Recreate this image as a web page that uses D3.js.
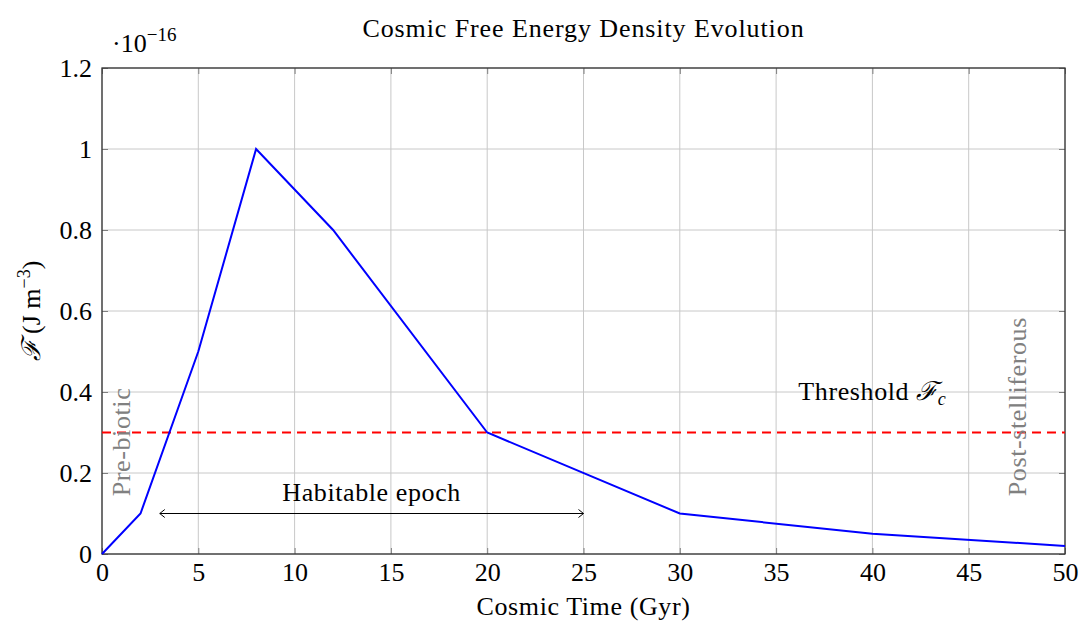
<!DOCTYPE html>
<html>
<head>
<meta charset="utf-8">
<script src="https://cdn.jsdelivr.net/npm/d3@7"></script>
<style>
  body { margin: 0; background: #fff; }
  text { font-family: "Liberation Serif", "DejaVu Serif", serif; }
</style>
</head>
<body>
<div id="chart"></div>
<script>
// Data (values in units of 1e-16 J m^-3)
var timeGyr = [0, 2, 5, 8, 12, 20, 30, 40, 50];
var freeEnergy = [0, 0.1, 0.5, 1.0, 0.8, 0.3, 0.1, 0.05, 0.02];
var threshold = 0.3;
var xTicks = [0, 5, 10, 15, 20, 25, 30, 35, 40, 45, 50];
var yTicks = [0, 0.2, 0.4, 0.6, 0.8, 1.0, 1.2];
var habitableRange = [3, 25];

var svgWidth = 1080;
var svgHeight = 625;
var margin = { top: 68, bottom: 71, left: 102, right: 15 };
var chartWidth = svgWidth - margin.left - margin.right;
var chartHeight = svgHeight - margin.top - margin.bottom;

var svg = d3.select("#chart").append("svg")
    .attr("width", svgWidth)
    .attr("height", svgHeight);

var chartGroup = svg.append("g")
    .attr("transform", `translate(${margin.left}, ${margin.top})`);

var xScale = d3.scaleLinear().domain([0, 50]).range([0, chartWidth]);
var yScale = d3.scaleLinear().domain([0, 1.2]).range([chartHeight, 0]);

// Grid
chartGroup.append("g").selectAll("line")
    .data(xTicks).enter().append("line")
    .attr("x1", d => xScale(d)).attr("x2", d => xScale(d))
    .attr("y1", 0).attr("y2", chartHeight)
    .attr("stroke", "#c8c8c8").attr("stroke-width", 1);
chartGroup.append("g").selectAll("line")
    .data(yTicks).enter().append("line")
    .attr("x1", 0).attr("x2", chartWidth)
    .attr("y1", d => yScale(d)).attr("y2", d => yScale(d))
    .attr("stroke", "#c8c8c8").attr("stroke-width", 1);

// Inner ticks on all four sides
var tickLen = 6;
var fmtY = d => d === 0 ? "0" : (d === 1 ? "1" : d3.format(".1f")(d));

var xAxis = d3.axisBottom(xScale).tickValues(xTicks).tickSizeInner(-tickLen).tickSizeOuter(0).tickPadding(9);
var yAxis = d3.axisLeft(yScale).tickValues(yTicks).tickFormat(fmtY).tickSizeInner(-tickLen).tickSizeOuter(0).tickPadding(10);
var xTop = d3.axisTop(xScale).tickValues(xTicks).tickSizeInner(-tickLen).tickSizeOuter(0).tickFormat("");
var yRight = d3.axisRight(yScale).tickValues(yTicks).tickSizeInner(-tickLen).tickSizeOuter(0).tickFormat("");

var axes = [
    chartGroup.append("g").attr("transform", `translate(0, ${chartHeight})`).call(xAxis),
    chartGroup.append("g").call(yAxis),
    chartGroup.append("g").call(xTop),
    chartGroup.append("g").attr("transform", `translate(${chartWidth}, 0)`).call(yRight)
];
axes.forEach(function(a) {
    a.attr("font-size", null).attr("font-family", null);
    a.select(".domain").remove();
    a.selectAll(".tick line").attr("stroke", "#7f7f7f").attr("stroke-width", 1);
    a.selectAll(".tick text").attr("fill", "#000").style("font-size", "26px");
});

// Frame
chartGroup.append("rect")
    .attr("width", chartWidth).attr("height", chartHeight)
    .attr("fill", "none").attr("stroke", "#333").attr("stroke-width", 1.3);

// Threshold line
chartGroup.append("line")
    .attr("x1", xScale(0)).attr("x2", xScale(50))
    .attr("y1", yScale(threshold)).attr("y2", yScale(threshold))
    .attr("stroke", "#ff0000").attr("stroke-width", 2)
    .attr("stroke-dasharray", "9,6");

// Free energy curve
var line = d3.line().x((d, i) => xScale(timeGyr[i])).y(d => yScale(d));
chartGroup.append("path")
    .datum(freeEnergy)
    .attr("d", line)
    .attr("fill", "none")
    .attr("stroke", "#0000ff")
    .attr("stroke-width", 2);

// Habitable epoch arrow
var arrowY = yScale(0.1);
var ax1 = xScale(habitableRange[0]);
var ax2 = xScale(habitableRange[1]);
var arrowGroup = chartGroup.append("g").attr("stroke", "#000").attr("fill", "none").attr("stroke-width", 1);
arrowGroup.append("line").attr("x1", ax1).attr("x2", ax2).attr("y1", arrowY).attr("y2", arrowY);
arrowGroup.append("path").attr("d", `M${ax1 + 5},${arrowY - 4} L${ax1},${arrowY} L${ax1 + 5},${arrowY + 4}`);
arrowGroup.append("path").attr("d", `M${ax2 - 5},${arrowY - 4} L${ax2},${arrowY} L${ax2 - 5},${arrowY + 4}`);

chartGroup.append("text")
    .attr("x", xScale(14)).attr("y", yScale(0.15) + 8)
    .attr("text-anchor", "middle")
    .style("font-size", "26px")
    .style("letter-spacing", "0.6px")
    .text("Habitable epoch");

// Threshold label
var thr = chartGroup.append("text")
    .attr("x", xScale(40)).attr("y", yScale(0.4) + 8)
    .attr("text-anchor", "middle")
    .style("font-size", "26px")
    .style("letter-spacing", "0.6px");
thr.append("tspan").text("Threshold ");
thr.append("tspan").style("font-style", "italic").text("ℱ");
thr.append("tspan").style("font-style", "italic").style("font-size", "18px").attr("dy", 5).text("c");

// Era labels (rotated, grey)
chartGroup.append("text")
    .attr("transform", `translate(${xScale(1) + 9}, ${yScale(0.15) + 3}) rotate(-90)`)
    .attr("fill", "#808080")
    .style("font-size", "26px")
    .style("letter-spacing", "0.6px")
    .text("Pre-biotic");
chartGroup.append("text")
    .attr("transform", `translate(${xScale(47.5) + 9}, ${yScale(0.15) + 3}) rotate(-90)`)
    .attr("fill", "#808080")
    .style("font-size", "26px")
    .style("letter-spacing", "0.6px")
    .text("Post-stelliferous");

// Title
svg.append("text")
    .attr("x", margin.left + chartWidth / 2).attr("y", 37)
    .attr("text-anchor", "middle")
    .style("font-size", "26px")
    .style("letter-spacing", "0.9px")
    .text("Cosmic Free Energy Density Evolution");

// Scale factor
var sf = svg.append("text").attr("x", 112).attr("y", 52).style("font-size", "26px");
sf.append("tspan").text("·10");
sf.append("tspan").attr("dy", -11).style("font-size", "19px").text("−16");

// Axis labels
svg.append("text")
    .attr("x", margin.left + chartWidth / 2).attr("y", 615)
    .attr("text-anchor", "middle")
    .style("font-size", "26px")
    .style("letter-spacing", "0.6px")
    .text("Cosmic Time (Gyr)");

var yl = svg.append("text")
    .attr("transform", `translate(40, ${margin.top + chartHeight / 2}) rotate(-90)`)
    .attr("text-anchor", "middle")
    .style("font-size", "26px");
yl.append("tspan").style("font-style", "italic").text("ℱ");
yl.append("tspan").text(" (J m");
yl.append("tspan").attr("dy", -10).style("font-size", "18px").text("−3");
yl.append("tspan").attr("dy", 10).text(")");
</script>
</body>
</html>
